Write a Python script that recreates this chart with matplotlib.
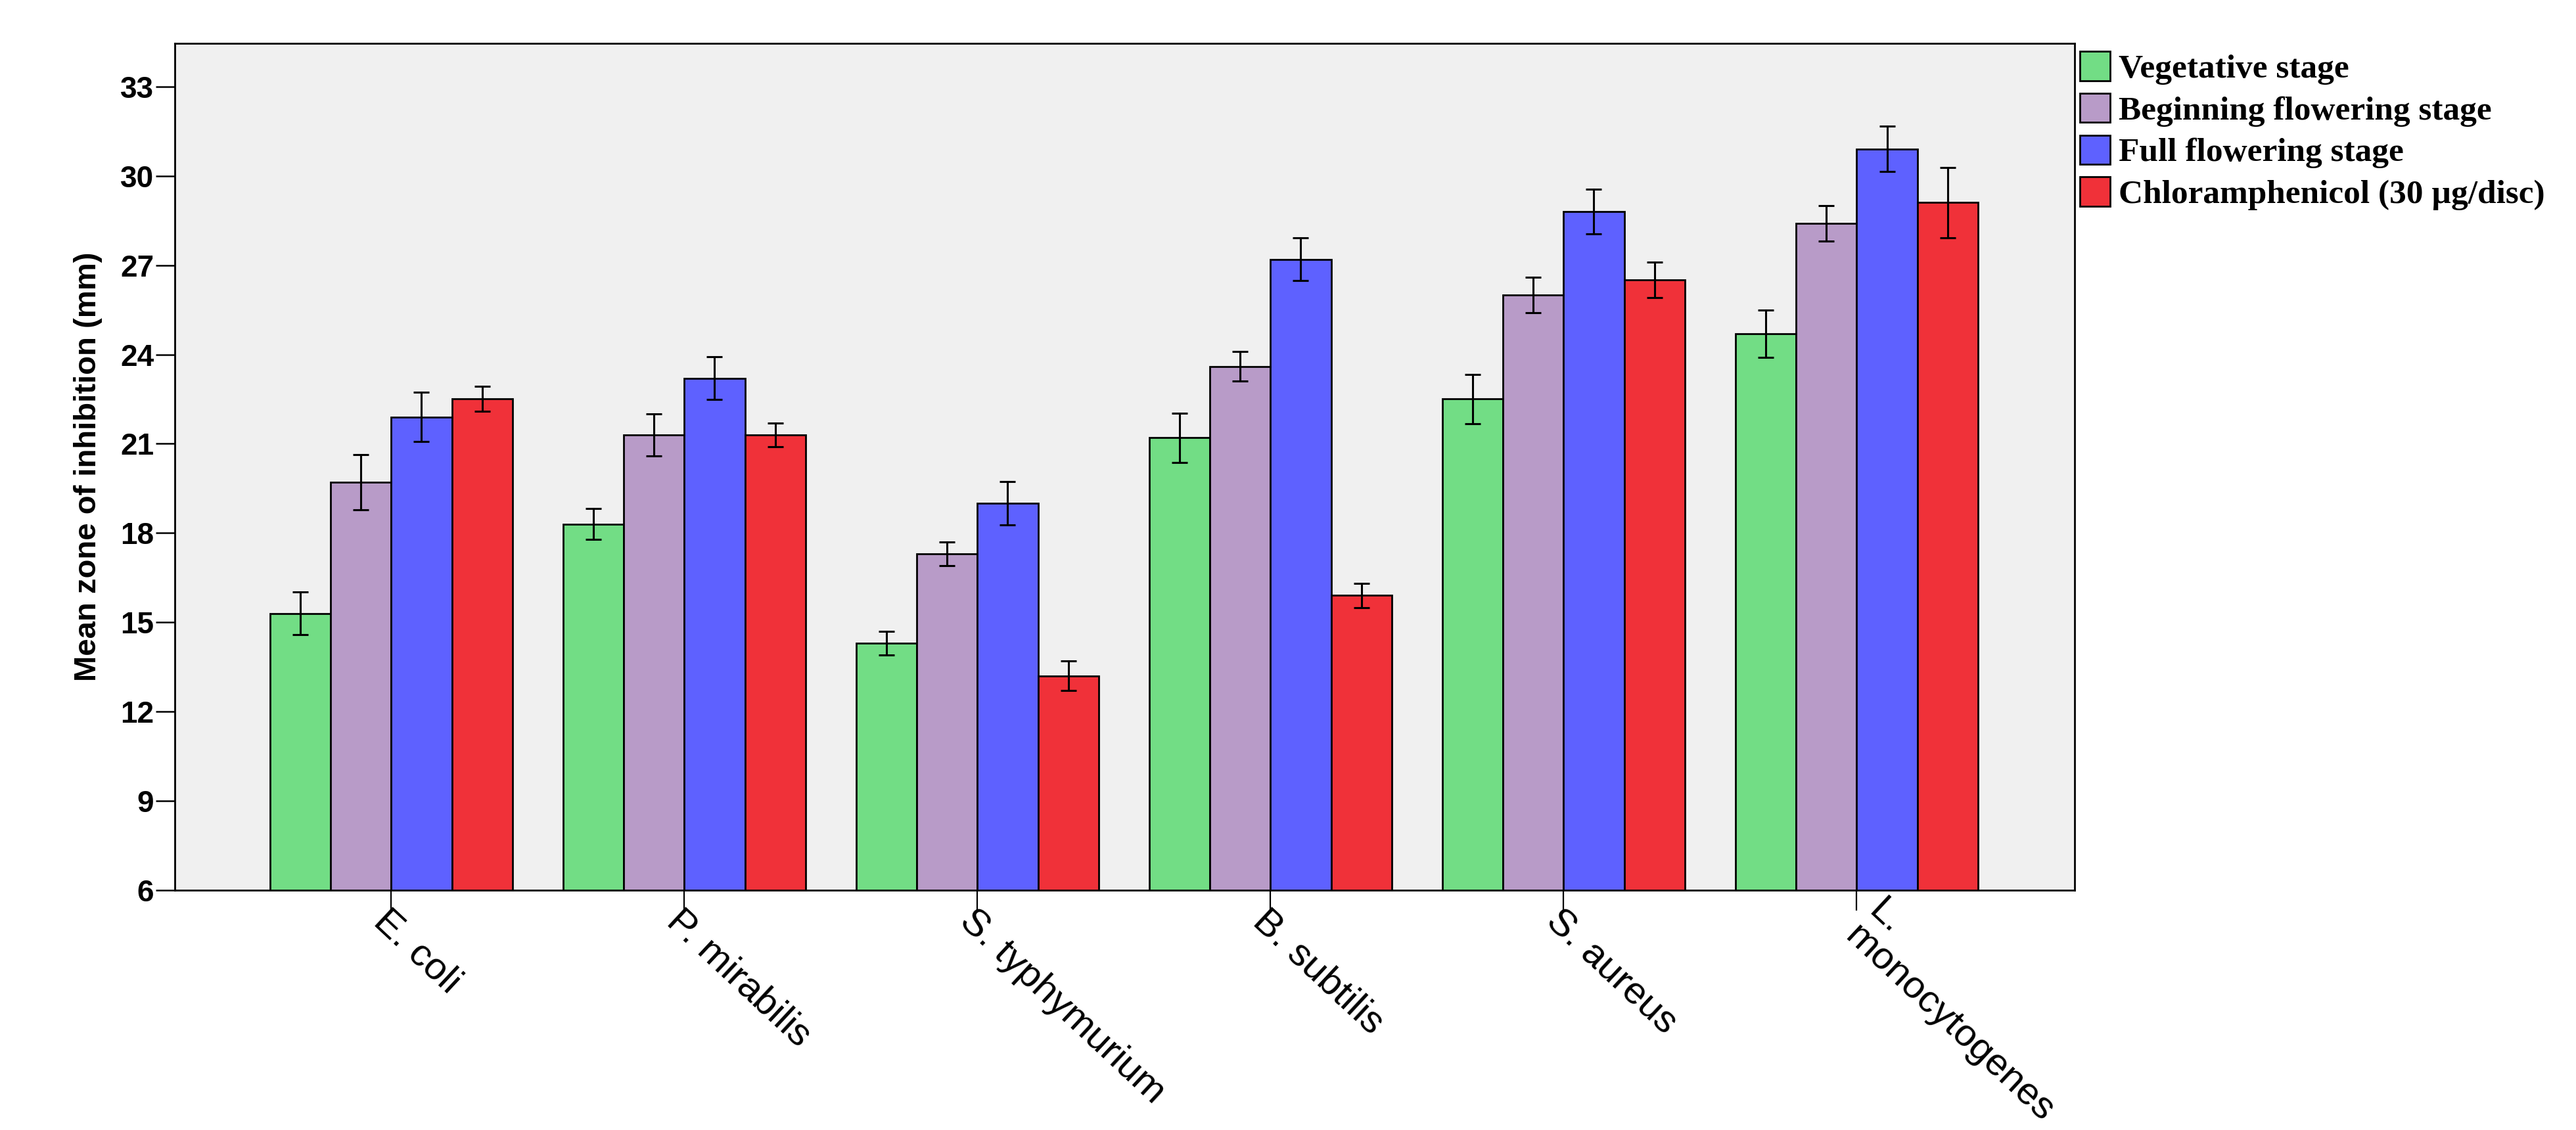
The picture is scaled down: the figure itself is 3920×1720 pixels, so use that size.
import matplotlib

matplotlib.use("Agg")
import matplotlib.pyplot as plt
import matplotlib.transforms as mtransforms
import numpy as np
from matplotlib import font_manager

# bacteria on the x-axis
bacteria = ["E. coli", "P. mirabilis", "S. typhymurium", "B. subtilis",
            "S. aureus", "L.\nmonocytogenes"]

series_names = ["Vegetative stage", "Beginning flowering stage",
                "Full flowering stage", "Chloramphenicol (30 \u00b5g/disc)"]

# mean zone of inhibition (mm) and error bar half-widths
vegetative = [15.3, 18.3, 14.3, 21.2, 22.5, 24.7]
vegetative_err = [0.72, 0.52, 0.40, 0.82, 0.82, 0.80]
beginning = [19.7, 21.3, 17.3, 23.6, 26.0, 28.4]
beginning_err = [0.93, 0.70, 0.40, 0.50, 0.60, 0.60]
full = [21.9, 23.2, 19.0, 27.2, 28.8, 30.9]
full_err = [0.83, 0.72, 0.72, 0.72, 0.76, 0.76]
chloramphenicol = [22.5, 21.3, 13.2, 15.9, 26.5, 29.1]
chloramphenicol_err = [0.42, 0.40, 0.50, 0.40, 0.60, 1.18]

y_ticks = [6, 9, 12, 15, 18, 21, 24, 27, 30, 33]

COLORS = ["#72dd85", "#b89bc8", "#5e61ff", "#f03139"]


def pick_font(*names):
    available = {f.name for f in font_manager.fontManager.ttflist}
    for name in names:
        if name in available:
            return name
    return "DejaVu Sans"


sans = pick_font("Liberation Sans Narrow", "Liberation Sans", "Arial")
sans_regular = pick_font("Liberation Sans", "Arial")
serif = pick_font("Liberation Serif", "Times New Roman", "DejaVu Serif")
narrow = sans == "Liberation Sans Narrow"

fig = plt.figure(figsize=(19.6, 8.6), dpi=200)
ax = fig.add_axes([0.0679, 0.2122, 0.8054 - 0.0679, 0.9616 - 0.2122])
ax.set_facecolor("#f0f0f0")

values = [vegetative, beginning, full, chloramphenicol]
errors = [vegetative_err, beginning_err, full_err, chloramphenicol_err]

x = np.arange(len(bacteria))
width = 0.207
handles = []
for i, (vals, errs) in enumerate(zip(values, errors)):
    pos = x + (i - 1.5) * width
    bars = ax.bar(pos, vals, width=width, bottom=0, color=COLORS[i],
                  edgecolor="black", linewidth=1.0, zorder=2,
                  label=series_names[i])
    ax.errorbar(pos, vals, yerr=errs, fmt="none", ecolor="black",
                elinewidth=1.1, capsize=4.2, capthick=1.1, zorder=3)
    handles.append(bars)

ax.set_xlim(-0.738, 5.744)
ax.set_ylim(6, 34.45)
ax.set_yticks(y_ticks)
ax.set_yticklabels([str(t) for t in y_ticks],
                   fontfamily=sans, fontweight="bold",
                   fontsize=19 if narrow else 16.5)
ax.set_xticks(x)
ax.set_xticklabels([])

# category labels drawn as rotated texts hanging from the tick ends
for xi, name in zip(x, bacteria):
    dx, dy = 0.0, -7.0
    if "\n" in name:
        # the two-line label sits higher and to the right of its tick
        dx, dy = 16.0, -1.5
    offset = mtransforms.ScaledTranslation(dx / 72, dy / 72,
                                           fig.dpi_scale_trans)
    ax.text(xi, 0, name, transform=ax.get_xaxis_transform() + offset,
            fontfamily=sans_regular, fontsize=21, rotation=-43,
            ha="left", va="top", rotation_mode="anchor", linespacing=0.95,
            clip_on=False)

ax.tick_params(axis="y", direction="out", length=10.5, width=0.9, pad=1,
               colors="black")
ax.tick_params(axis="x", direction="out", length=11, width=0.8,
               colors="black")

for spine in ax.spines.values():
    spine.set_color("black")
    spine.set_linewidth(1.0)

ax.set_ylabel("Mean zone of inhibition (mm)", fontfamily=sans,
              fontweight="bold", fontsize=20 if narrow else 17)
ax.yaxis.set_label_coords(-0.038, 0.5)

leg = ax.legend(handles=handles, loc="upper left",
                bbox_to_anchor=(0.8074, 0.9545),
                bbox_transform=fig.transFigure, frameon=False,
                borderpad=0, borderaxespad=0, handlelength=0.9,
                handleheight=0.95, handletextpad=0.25, labelspacing=0.25,
                prop={"family": serif, "weight": "bold", "size": 18.5})
for patch in leg.get_patches():
    patch.set_edgecolor("black")
    patch.set_linewidth(1.0)

fig.savefig("out.png", dpi=200, facecolor="white")
